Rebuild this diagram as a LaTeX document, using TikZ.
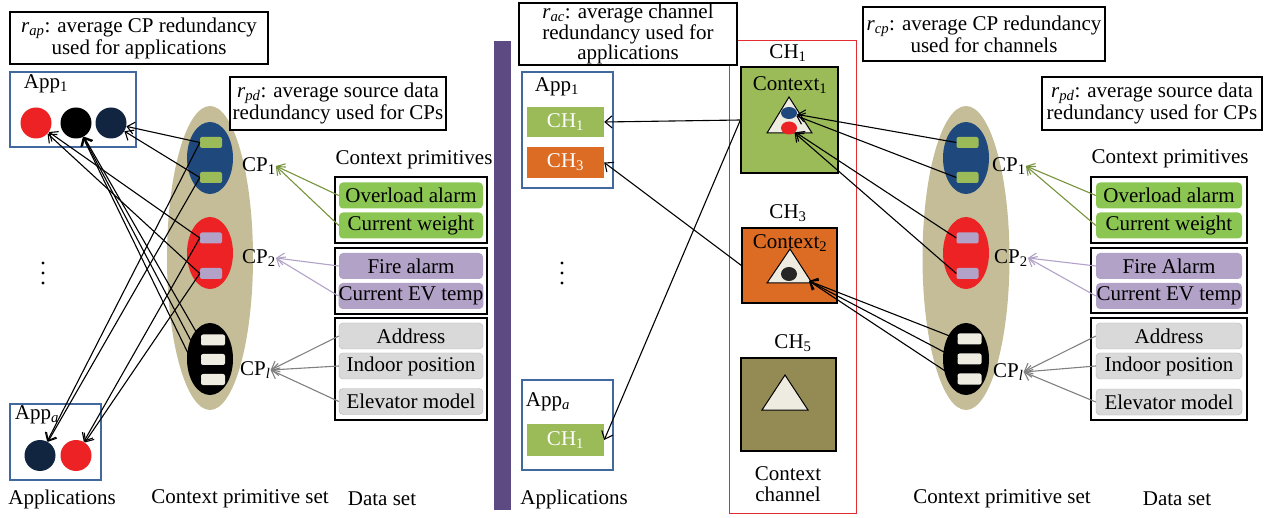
\documentclass[tikz,border=0pt]{standalone}
\usepackage{fontspec}
\setmainfont{Liberation Serif}
\usetikzlibrary{arrows.meta, positioning, shapes.geometric}
\definecolor{tanbg}{RGB}{196,189,151}
\definecolor{cpblue}{RGB}{31,73,125}
\definecolor{cpred}{RGB}{237,34,36}
\definecolor{navy}{RGB}{17,37,64}
\definecolor{slotgreen}{RGB}{155,187,89}
\definecolor{slotlav}{RGB}{178,162,199}
\definecolor{slotcream}{RGB}{238,236,225}
\definecolor{primgreen}{RGB}{139,198,82}
\definecolor{primgray}{RGB}{217,217,217}
\definecolor{appframe}{RGB}{65,105,160}
\definecolor{chorange}{RGB}{220,108,36}
\definecolor{cholive}{RGB}{148,138,84}
\definecolor{divider}{RGB}{93,74,130}
\definecolor{arrgreen}{RGB}{119,147,60}
\definecolor{arrgray}{RGB}{128,128,128}
\definecolor{chframe}{RGB}{228,45,50}
\newcommand{\sub}[1]{\textsubscript{#1}}

\tikzset{
  note/.style={draw, line width=1.4pt, fill=white, align=center, inner sep=0pt},
  appframe/.style={draw=appframe, line width=1.2pt, fill=white},
  dot/.style={circle, minimum size=31pt, inner sep=0pt},
  cpell/.style={ellipse, minimum width=46pt, minimum height=72pt, inner sep=0pt},
  slot/.style={rectangle, rounded corners=2pt, minimum width=22pt, minimum height=11pt, inner sep=0pt},
  databox/.style={draw, line width=1.4pt, inner sep=0pt},
  prim/.style={rectangle, rounded corners=4pt, minimum height=26pt, inner sep=0pt},
  chtag/.style={rectangle, minimum width=77pt, minimum height=30pt, inner sep=0pt, text=white},
  chbox/.style={draw, line width=1.2pt, inner sep=0pt},
  link/.style={line width=1.1pt, -{Straight Barb[length=7pt,width=12pt]}},
  feed/.style={line width=1.1pt, -{Straight Barb[length=7pt,width=12pt]}}
}

\begin{document}
\begin{tikzpicture}[x=1pt, y=-1pt, font=\fontsize{21}{17.5}\selectfont]
\useasboundingbox (0,0) rectangle (1274,518);

% Left: applications
\node[note, minimum width=258pt, minimum height=52pt] (rap) at (139,38)
  {\textit{r}\sub{\textit{ap}}: average CP redundancy\\used for applications};
\node[appframe, minimum width=126pt, minimum height=75pt] (appone) at (73,109.5) {};
\node (apponelbl) at (46,84) {App\sub{1}};
\node[dot, fill=cpred]  (aored) at (36,123) {};
\node[dot, fill=black]  (aoblk) at (76,123) {};
\node[dot, fill=navy]   (aonav) at (111,123) {};
\node[appframe, minimum width=91pt, minimum height=76pt] (appa) at (55.5,442) {};
\node (appalbl) at (37,415) {App\sub{\textit{a}}};
\node[dot, fill=navy] (aanav) at (40,455.5) {};
\node[dot, fill=cpred] (aared) at (76,455.5) {};
\foreach \y in {263,273,283}
  \fill (43,\y) circle (1.6);

% Left: context primitive set
\node[ellipse, fill=tanbg, minimum width=86pt, minimum height=304pt, inner sep=0pt] (lset) at (210,258) {};
\node[cpell, fill=cpblue] (lcpa) at (210,158) {};
\node[cpell, fill=cpred]  (lcpb) at (210,253) {};
\node[cpell, fill=black]  (lcpl) at (210,359) {};
\node[slot, fill=slotgreen] (lga) at (211,142.5) {};
\node[slot, fill=slotgreen] (lgb) at (211,177.5) {};
\node[slot, fill=slotlav]   (lla) at (211,238) {};
\node[slot, fill=slotlav]   (llb) at (211,273.5) {};
\node[slot, fill=slotcream, minimum width=24pt] (lca) at (213,340) {};
\node[slot, fill=slotcream, minimum width=24pt] (lcb) at (213,359.5) {};
\node[slot, fill=slotcream, minimum width=24pt] (lcc) at (213,379.5) {};
\node[anchor=west, inner sep=0pt] (lcponelbl) at (242,166) {CP\sub{1}};
\node[anchor=west, inner sep=0pt] (lcptwolbl) at (242,258) {CP\sub{2}};
\node[anchor=west, inner sep=0pt] (lcpllbl)   at (240,370) {CP\sub{\textit{l}}};
\node[note, minimum width=216pt, minimum height=53pt] (lrpd) at (338,103.5)
  {\textit{r}\sub{\textit{pd}}: average source data\\redundancy used for CPs};

% Left: links CP -> applications
\foreach \s/\t in {lga/aonav, lgb/aonav, lga/aanav, lgb/aanav,
                   lla/aored, llb/aored, lla/aared, llb/aared,
                   lca/aoblk, lcb/aoblk, lcc/aoblk}
  \draw[link] (\s.west) -- (\t);

% Left: data set
\node (lprimlbl) at (414,160) {Context primitives};
\node[databox, minimum width=152pt, minimum height=66pt]  (ldba) at (411,210) {};
\node[databox, minimum width=152pt, minimum height=66pt]  (ldbb) at (411,281) {};
\node[databox, minimum width=152pt, minimum height=102pt] (ldbc) at (411,369) {};
\node[prim, fill=primgreen, minimum width=144pt] (lpa) at (411,195.5) {Overload alarm};
\node[prim, fill=primgreen, minimum width=144pt] (lpb) at (411,225.5) {Current weight};
\node[prim, fill=slotlav, minimum width=144pt]   (lpc) at (411,266) {Fire alarm};
\node[prim, fill=slotlav, minimum width=144pt]   (lpd) at (411,296) {Current EV temp};
\node[prim, fill=primgray, draw=arrgray!60, minimum width=144pt] (lpe) at (411,336) {Address};
\node[prim, fill=primgray, draw=arrgray!60, minimum width=144pt] (lpf) at (411,366) {Indoor position};
\node[prim, fill=primgray, draw=arrgray!60, minimum width=144pt] (lpg) at (411,401.5) {Elevator model};
\draw[feed, arrgreen] (lpa.west) -- (lcponelbl.east);
\draw[feed, arrgreen] (lpb.west) -- (lcponelbl.east);
\draw[feed, slotlav]  (lpc.west) -- (lcptwolbl.east);
\draw[feed, slotlav]  (lpd.west) -- (lcptwolbl.east);
\draw[feed, arrgray]  (lpe.west) -- (lcpllbl.east);
\draw[feed, arrgray]  (lpf.west) -- (lcpllbl.east);
\draw[feed, arrgray]  (lpg.west) -- (lcpllbl.east);

\node (lapps) at (62,499) {Applications};
\node (lsetlbl) at (240,499) {Context primitive set};
\node (ldata) at (382,499) {Data set};

% Divider
\fill[divider] (494,41) rectangle (511,510);

% Middle: context channels
\draw[chframe, line width=1pt] (729,41) rectangle (856,513);
\node[note, minimum width=218pt, minimum height=62pt] (rac) at (628,34)
  {\textit{r}\sub{\textit{ac}}: average channel\\redundancy used for\\applications};
\node (chonelbl) at (788,53) {CH\sub{1}};
\node[chbox, fill=slotgreen, minimum width=97pt, minimum height=106pt] (chone) at (789.5,120) {};
\node (ctxone) at (790,85) {Context\sub{1}};
\filldraw[fill=slotcream, line width=1pt] (767,133) -- (812,133) -- (789,97) -- cycle;
\node[ellipse, fill=cpblue, minimum width=16pt, minimum height=12pt, inner sep=0pt] (ctxblue) at (789,113) {};
\node[ellipse, fill=cpred, minimum width=16pt, minimum height=13pt, inner sep=0pt] (ctxred) at (789,128) {};
\node (chthreelbl) at (788,213) {CH\sub{3}};
\node[chbox, fill=chorange, minimum width=95pt, minimum height=75pt] (chthree) at (789.5,265.5) {};
\node (ctxtwo) at (790,243) {Context\sub{2}};
\filldraw[fill=slotcream, line width=1pt] (767,283) -- (812,283) -- (790,249) -- cycle;
\node[ellipse, fill=black!85, minimum width=16pt, minimum height=14pt, inner sep=0pt] (ctxdark) at (789,274) {};
\coordinate (tritwo) at (809,281);
\node (chfivelbl) at (793,343) {CH\sub{5}};
\node[chbox, fill=cholive, minimum width=95pt, minimum height=93pt] (chfive) at (788.5,404.5) {};
\filldraw[fill=slotcream, line width=1pt] (762,410) -- (808,410) -- (785,375) -- cycle;
\node[align=center] (chanlbl) at (788,484) {Context\\[4pt]channel};

% Middle: applications
\node[appframe, minimum width=91pt, minimum height=116pt] (mappone) at (567.5,130) {};
\node (mapponelbl) at (557,87) {App\sub{1}};
\node[chtag, fill=slotgreen] (mchone) at (565.5,122) {CH\sub{1}};
\node[chtag, fill=chorange, minimum height=31pt] (mchthree) at (565.5,162.5) {CH\sub{3}};
\node[appframe, minimum width=91pt, minimum height=90pt] (mappa) at (567.5,425) {};
\node (mappalbl) at (548,402) {App\sub{\textit{a}}};
\node[chtag, fill=slotgreen, minimum height=32pt] (machone) at (565.5,440) {CH\sub{1}};
\foreach \y in {263,273,283}
  \fill (562,\y) circle (1.6);
\node (mapps) at (574,499) {Applications};

\draw[link] (chone.west) -- (mchone.east);
\draw[link] (chone.west) -- (machone.east);
\draw[link] (chthree.west) -- (mchthree.east);

% Right: context primitive set
\node[note, minimum width=242pt, minimum height=54pt] (rcp) at (984,34)
  {\textit{r}\sub{\textit{cp}}: average CP redundancy\\used for channels};
\node[ellipse, fill=tanbg, minimum width=87pt, minimum height=304pt, inner sep=0pt] (rset) at (966,258) {};
\node[cpell, fill=cpblue] (rcpa) at (966,158) {};
\node[cpell, fill=cpred]  (rcpb) at (966,253) {};
\node[cpell, fill=black]  (rcpl) at (966,359) {};
\node[slot, fill=slotgreen] (rga) at (967.5,142.5) {};
\node[slot, fill=slotgreen] (rgb) at (967.5,177.5) {};
\node[slot, fill=slotlav]   (rla) at (967.5,238) {};
\node[slot, fill=slotlav]   (rlb) at (967.5,273.5) {};
\node[slot, fill=slotcream, minimum width=24pt] (rca) at (969.5,339) {};
\node[slot, fill=slotcream, minimum width=24pt] (rcb) at (969.5,359) {};
\node[slot, fill=slotcream, minimum width=24pt] (rcc) at (969.5,379) {};
\node[anchor=west, inner sep=0pt] (rcponelbl) at (992,166) {CP\sub{1}};
\node[anchor=west, inner sep=0pt] (rcptwolbl) at (994,258) {CP\sub{2}};
\node[anchor=west, inner sep=0pt] (rcpllbl)   at (993,372) {CP\sub{\textit{l}}};
\node[note, minimum width=220pt, minimum height=53pt] (rrpd) at (1152,103.5)
  {\textit{r}\sub{\textit{pd}}: average source data\\redundancy used for CPs};

% Right: links CP -> channels
\foreach \s/\t in {rga/ctxblue, rgb/ctxblue, rla/ctxred, rlb/ctxred,
                   rca/tritwo, rcb/tritwo, rcc/tritwo}
  \draw[link] (\s.west) -- (\t);

% Right: data set
\node (rprimlbl) at (1170,159) {Context primitives};
\node[databox, minimum width=156pt, minimum height=66pt]  (rdba) at (1169,210) {};
\node[databox, minimum width=156pt, minimum height=65pt]  (rdbb) at (1169,280.5) {};
\node[databox, minimum width=156pt, minimum height=102pt] (rdbc) at (1169,369) {};
\node[prim, fill=primgreen, minimum width=146pt] (rpa) at (1169,195.5) {Overload alarm};
\node[prim, fill=primgreen, minimum width=146pt] (rpb) at (1169,225.5) {Current weight};
\node[prim, fill=slotlav, minimum width=146pt]   (rpc) at (1169,266) {Fire Alarm};
\node[prim, fill=slotlav, minimum width=146pt]   (rpd) at (1169,296) {Current EV temp};
\node[prim, fill=primgray, draw=arrgray!60, minimum width=146pt] (rpe) at (1169,336) {Address};
\node[prim, fill=primgray, draw=arrgray!60, minimum width=146pt] (rpf) at (1169,366) {Indoor position};
\node[prim, fill=primgray, draw=arrgray!60, minimum width=146pt] (rpg) at (1169,402) {Elevator model};
\draw[feed, arrgreen] (rpa.west) -- (rcponelbl.east);
\draw[feed, arrgreen] (rpb.west) -- (rcponelbl.east);
\draw[feed, slotlav]  (rpc.west) -- (rcptwolbl.east);
\draw[feed, slotlav]  (rpd.west) -- (rcptwolbl.east);
\draw[feed, arrgray]  (rpe.west) -- (rcpllbl.east);
\draw[feed, arrgray]  (rpf.west) -- (rcpllbl.east);
\draw[feed, arrgray]  (rpg.west) -- (rcpllbl.east);

\node (rsetlbl) at (1002,499) {Context primitive set};
\node (rdata) at (1177,499) {Data set};

\end{tikzpicture}
\end{document}
